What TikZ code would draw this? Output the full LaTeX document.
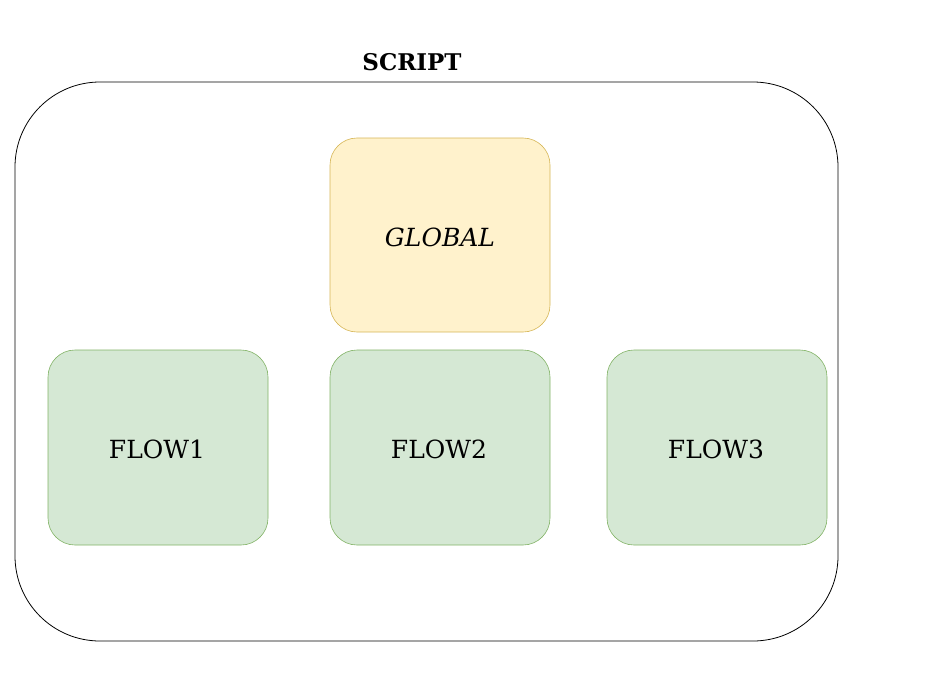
\documentclass[tikz,border=0pt]{standalone}
\usepackage{fontspec}
\setmainfont{DejaVu Serif}
\definecolor{yfill}{HTML}{FFF2CC}
\definecolor{ydraw}{HTML}{D6B656}
\definecolor{gfill}{HTML}{D5E8D4}
\definecolor{gdraw}{HTML}{82B366}
\begin{document}
\begin{tikzpicture}[x=1pt,y=-1pt,
  outerbox/.style={draw=black,line width=0.8pt,rounded corners=85pt},
  gbox/.style={draw=ydraw,fill=yfill,line width=0.6pt,rounded corners=27pt},
  fbox/.style={draw=gdraw,fill=gfill,line width=0.6pt,rounded corners=27pt},
  lbl/.style={font=\fontsize{25}{30}\selectfont,inner sep=0pt},
  ttl/.style={font=\fontsize{23}{27}\selectfont\bfseries,inner sep=0pt}]
\useasboundingbox (0,0) rectangle (944,674);
\draw[outerbox] (15,82) rectangle (838,641);
\node[ttl] (title) at (412,62) {SCRIPT};
\draw[gbox] (330,138) rectangle (550,332);
\node[lbl,font=\fontsize{25}{30}\selectfont\itshape] (global) at (440,237) {GLOBAL};
\draw[fbox] (48,350) rectangle (268,545);
\node[lbl] (flow1) at (157,449) {FLOW1};
\draw[fbox] (330,350) rectangle (550,545);
\node[lbl] (flow2) at (439,449) {FLOW2};
\draw[fbox] (607,350) rectangle (827,545);
\node[lbl] (flow3) at (716,449) {FLOW3};
\end{tikzpicture}
\end{document}
